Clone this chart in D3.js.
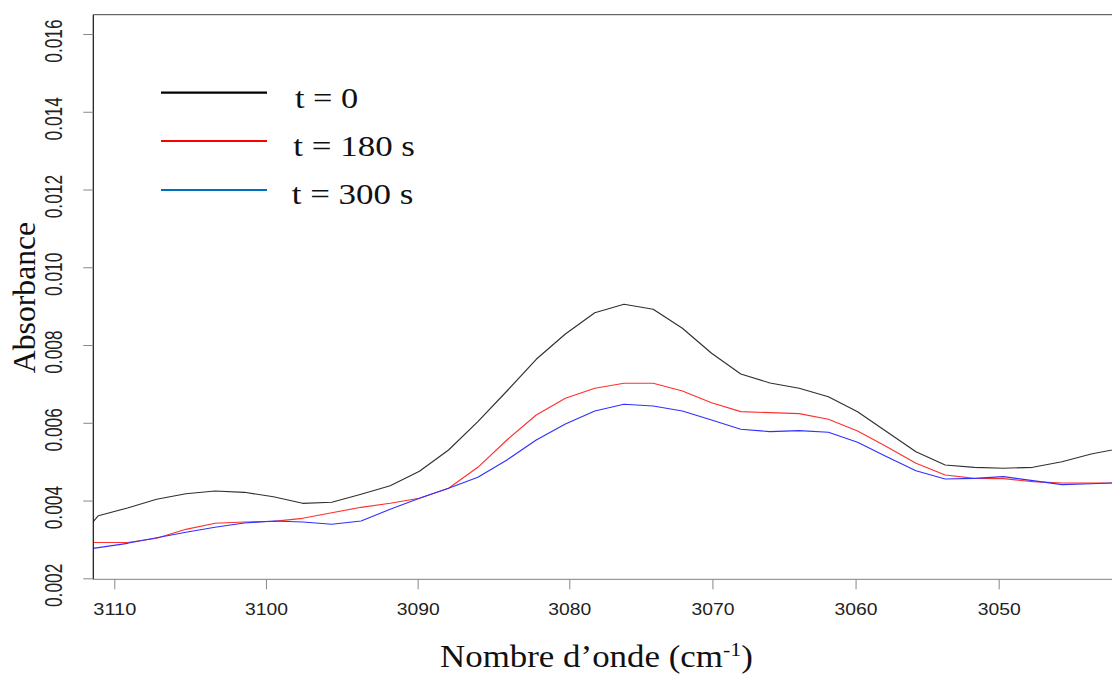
<!DOCTYPE html>
<html>
<head>
<meta charset="utf-8">
<script src="https://cdn.jsdelivr.net/npm/d3@7"></script>
<style>
  html, body { margin: 0; padding: 0; background: #ffffff; }
  svg { display: block; }
</style>
</head>
<body>
<script>
// ---------------- data ----------------
const wavenumbers = [3112.98, 3111.05, 3109.13, 3107.21, 3105.28, 3103.36, 3101.43, 3099.51, 3097.58, 3095.66,
  3093.73, 3091.81, 3089.88, 3087.96, 3086.03, 3084.11, 3082.18, 3080.26, 3078.22, 3076.18,
  3074.14, 3072.10, 3070.06, 3068.02, 3065.98, 3063.94, 3061.90, 3059.86, 3057.82, 3055.78,
  3053.74, 3051.70, 3049.66, 3047.62, 3045.58, 3043.54, 3041.50];

const absT0 = [0.002754, 0.003610, 0.003808, 0.004032, 0.004176, 0.004246, 0.004212, 0.004099, 0.003929, 0.003955,
  0.004161, 0.004382, 0.004752, 0.005300, 0.006028, 0.006818, 0.007633, 0.008284, 0.008832, 0.009048,
  0.008920, 0.008431, 0.007788, 0.007255, 0.007024, 0.006887, 0.006671, 0.006286, 0.005771, 0.005257,
  0.004915, 0.004855, 0.004830, 0.004855, 0.004999, 0.005197, 0.005341];

const absT180 = [0.002921, 0.002921, 0.002921, 0.003029, 0.003260, 0.003415, 0.003448, 0.003466, 0.003543, 0.003687,
  0.003826, 0.003929, 0.004058, 0.004315, 0.004855, 0.005558, 0.006201, 0.006630, 0.006887, 0.007016,
  0.007016, 0.006818, 0.006517, 0.006286, 0.006260, 0.006234, 0.006090, 0.005789, 0.005385, 0.004958,
  0.004657, 0.004572, 0.004562, 0.004485, 0.004451, 0.004451, 0.004451];

const absT300 = [0.002679, 0.002790, 0.002900, 0.003044, 0.003183, 0.003312, 0.003423, 0.003474, 0.003448, 0.003389,
  0.003474, 0.003775, 0.004058, 0.004315, 0.004598, 0.005043, 0.005558, 0.005969, 0.006304, 0.006476,
  0.006432, 0.006304, 0.006072, 0.005833, 0.005771, 0.005797, 0.005756, 0.005498, 0.005128, 0.004768,
  0.004554, 0.004572, 0.004614, 0.004511, 0.004408, 0.004433, 0.004459];

const seriesNames = ["t = 0", "t = 180 s", "t = 300 s"];
const xTickValues = [3110, 3100, 3090, 3080, 3070, 3060, 3050];
const yTickValues = [0.002, 0.004, 0.006, 0.008, 0.010, 0.012, 0.014, 0.016];
const xTitle = "Nombre d\u2019onde (cm";
const xTitleSup = "-1";
const yTitle = "Absorbance";

// ---------------- layout & styles ----------------
const W = 1112, H = 675;
const plotLeft = 93.3, plotRight = 1112, plotTop = 14.7, plotBottom = 579.3;
const lineColors = ["#303030", "#ff3030", "#3030ff"];
const legendColors = ["#000000", "#ff0000", "#0070c0"];

const svg = d3.select("body").append("svg").attr("width", W).attr("height", H);

// The picture's axis is not uniformly spaced on both sides of 3080: a polylinear scale reproduces it
const x = d3.scaleLinear().domain([3110, 3080, 3050]).range([114.3, 569.3, 998.7]);
const y = d3.scaleLinear().domain([0.002, 0.016]).range([578.3, 34]);

function stretchX(sel, target, ax) {
  sel.each(function () {
    const w = this.getBBox().width;
    if (w > 0) {
      const s = target / w;
      d3.select(this).attr("transform", `translate(${ax * (1 - s)},0) scale(${s},1)`);
    }
  });
}

// clip
svg.append("defs").append("clipPath").attr("id", "clip")
  .append("rect").attr("x", plotLeft).attr("y", plotTop)
  .attr("width", plotRight - plotLeft).attr("height", plotBottom - plotTop);

// ---------------- lines ----------------
const series = [absT0, absT180, absT300];
const lineGen = d3.line().x(d => x(d[0])).y(d => y(d[1]));
const gLines = svg.append("g").attr("clip-path", "url(#clip)");
series.forEach((vals, i) => {
  gLines.append("path")
    .datum(wavenumbers.map((w, j) => [w, vals[j]]))
    .attr("d", lineGen)
    .attr("fill", "none")
    .attr("stroke", lineColors[i])
    .attr("stroke-width", 1.15)
    .attr("stroke-linejoin", "round");
});

// ---------------- frame ----------------
svg.append("line").attr("x1", plotLeft).attr("x2", plotRight).attr("y1", plotTop).attr("y2", plotTop)
  .attr("stroke", "#444").attr("stroke-width", 1);

// ---------------- x axis ----------------
const gx = svg.append("g").attr("transform", `translate(0,${plotBottom})`)
  .call(d3.axisBottom(x).tickValues(xTickValues).tickSize(10).tickFormat(d3.format("d")));
gx.select(".domain").attr("d", `M${plotLeft},0H${plotRight}`).attr("stroke", "#9a9a9a").attr("stroke-width", 1.2);
gx.selectAll(".tick line").attr("stroke", "#888").attr("stroke-width", 1);
gx.selectAll(".tick text")
  .attr("y", 35.7).attr("dy", 0)
  .attr("font-family", "'Liberation Sans', Arial, sans-serif")
  .attr("font-size", 16.3).attr("fill", "#222")
  .call(stretchX, 43, 0);

// ---------------- y axis ----------------
const gy = svg.append("g").attr("transform", `translate(${plotLeft},0)`)
  .call(d3.axisLeft(y).tickValues(yTickValues).tickSize(10).tickFormat(d3.format(".3f")));
gy.select(".domain").attr("d", `M0,${plotTop}V${plotBottom}`).attr("stroke", "#111").attr("stroke-width", 1.2);
gy.selectAll(".tick line").attr("stroke", "#888").attr("stroke-width", 1);
gy.selectAll(".tick text")
  .attr("x", null).attr("y", 0).attr("dy", 0)
  .attr("text-anchor", "middle")
  .attr("font-family", "'Liberation Sans', Arial, sans-serif")
  .attr("font-size", 17.3).attr("fill", "#222")
  .attr("transform", `translate(${61.7 - plotLeft},6.6) rotate(-90) scale(1,1.35)`);

// ---------------- titles ----------------
svg.append("text")
  .attr("transform", "translate(35,297.5) rotate(-90)")
  .attr("text-anchor", "middle")
  .attr("font-family", "'Liberation Serif', 'Times New Roman', serif")
  .attr("font-size", 31.7).attr("fill", "#111")
  .text(yTitle);

const xt = svg.append("text")
  .attr("x", 440).attr("y", 667.5)
  .attr("font-family", "'Liberation Serif', 'Times New Roman', serif")
  .attr("font-size", 31).attr("fill", "#111");
xt.append("tspan").text(xTitle);
xt.append("tspan").attr("dy", -11).attr("font-size", 19.5).text(xTitleSup);
xt.append("tspan").attr("dy", 11).text(")");
stretchX(xt, 313, 440);

// ---------------- legend ----------------
const legY = [92.7, 141, 190];
const legTextX = [295, 293.3, 291.7];
const legTextY = [108.3, 156, 204.3];
const legTextW = [63.3, 121.7, 121.7];
seriesNames.forEach((name, i) => {
  svg.append("line").attr("x1", 161).attr("x2", 267).attr("y1", legY[i]).attr("y2", legY[i])
    .attr("stroke", legendColors[i]).attr("stroke-width", 2.2);
  const t = svg.append("text")
    .attr("x", legTextX[i]).attr("y", legTextY[i])
    .attr("font-family", "'Liberation Serif', 'Times New Roman', serif")
    .attr("font-size", 29.6).attr("fill", "#111")
    .text(name);
  stretchX(t, legTextW[i], legTextX[i]);
});
</script>
</body>
</html>
